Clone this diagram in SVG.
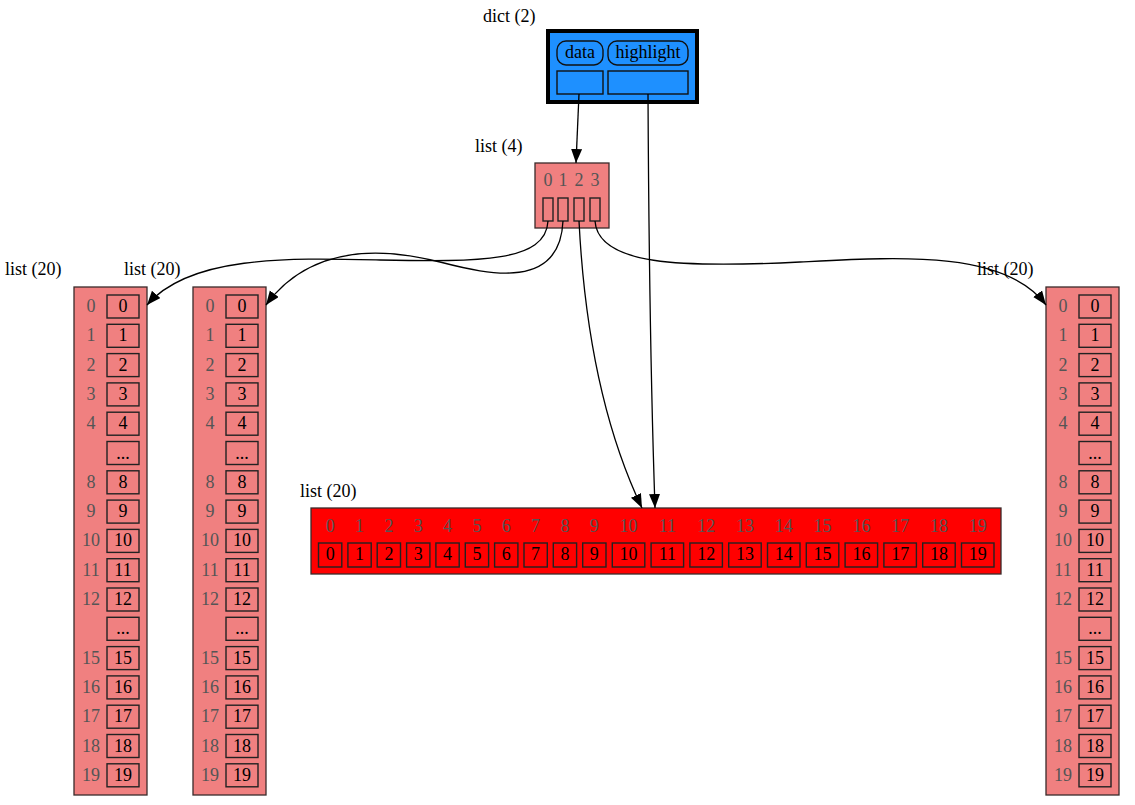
<svg xmlns="http://www.w3.org/2000/svg" width="1135" height="805" viewBox="0 0 1135 805">
<style>
text{font-family:"Liberation Serif","Times New Roman",serif;font-size:18px;fill:#000}
.c{text-anchor:middle}
.idx{fill:#555;text-anchor:middle}
.lst{fill:#F08080;stroke:#3a2a2a;stroke-width:1.3}
.red{fill:#FF0000;stroke:#3a2a2a;stroke-width:1.3}
.box{fill:none;stroke:#222;stroke-width:1.4}
.edge{fill:none;stroke:#000;stroke-width:1.3}
</style>
<defs>
<marker id="arr" markerUnits="userSpaceOnUse" markerWidth="16" markerHeight="12" refX="14" refY="5.5" orient="auto">
<path d="M0,0 L14,5.5 L0,11 Z" fill="#000"/>
</marker>
</defs>
<rect width="1135" height="805" fill="#fff"/>

<g id="dict">
<text x="483" y="22">dict (2)</text>
<rect x="548" y="31" width="149" height="71" fill="#1E90FF" stroke="#000" stroke-width="4"/>
<rect x="557" y="41" width="46" height="24" rx="9" fill="#1E90FF" stroke="#111" stroke-width="1.4"/>
<rect x="608" y="41" width="80" height="24" rx="9" fill="#1E90FF" stroke="#111" stroke-width="1.4"/>
<text class="c" x="580" y="58">data</text>
<text class="c" x="648" y="58">highlight</text>
<rect x="557" y="71" width="46" height="23" fill="#1E90FF" stroke="#111" stroke-width="1.4"/>
<rect x="608" y="71" width="80" height="23" fill="#1E90FF" stroke="#111" stroke-width="1.4"/>
</g>

<g id="list4">
<text x="475" y="152">list (4)</text>
<rect class="lst" x="535" y="163" width="74" height="65"/>
<text class="idx" x="548" y="186">0</text>
<text class="idx" x="563" y="186">1</text>
<text class="idx" x="579" y="186">2</text>
<text class="idx" x="595" y="186">3</text>
<rect class="box" x="543" y="198" width="10" height="23"/>
<rect class="box" x="558" y="198" width="10" height="23"/>
<rect class="box" x="574" y="198" width="10" height="23"/>
<rect class="box" x="590" y="198" width="10" height="23"/>
</g>

<g id="listA">
<text x="5" y="275">list (20)</text>
<g transform="translate(74,0)">
<rect class="lst" x="0" y="287" width="73" height="508"/>
<text class="idx" x="17" y="312">0</text><rect class="box" x="33" y="295" width="32" height="23"/><text class="c" x="49" y="312">0</text>
<text class="idx" x="17" y="341.3">1</text><rect class="box" x="33" y="324.3" width="32" height="23"/><text class="c" x="49" y="341.3">1</text>
<text class="idx" x="17" y="370.6">2</text><rect class="box" x="33" y="353.6" width="32" height="23"/><text class="c" x="49" y="370.6">2</text>
<text class="idx" x="17" y="399.9">3</text><rect class="box" x="33" y="382.9" width="32" height="23"/><text class="c" x="49" y="399.9">3</text>
<text class="idx" x="17" y="429.2">4</text><rect class="box" x="33" y="412.2" width="32" height="23"/><text class="c" x="49" y="429.2">4</text>
<rect class="box" x="33" y="441.5" width="32" height="23"/><text class="c" x="49" y="458.5">...</text>
<text class="idx" x="17" y="487.8">8</text><rect class="box" x="33" y="470.8" width="32" height="23"/><text class="c" x="49" y="487.8">8</text>
<text class="idx" x="17" y="517.1">9</text><rect class="box" x="33" y="500.1" width="32" height="23"/><text class="c" x="49" y="517.1">9</text>
<text class="idx" x="17" y="546.4">10</text><rect class="box" x="33" y="529.4" width="32" height="23"/><text class="c" x="49" y="546.4">10</text>
<text class="idx" x="17" y="575.7">11</text><rect class="box" x="33" y="558.7" width="32" height="23"/><text class="c" x="49" y="575.7">11</text>
<text class="idx" x="17" y="605">12</text><rect class="box" x="33" y="588" width="32" height="23"/><text class="c" x="49" y="605">12</text>
<rect class="box" x="33" y="617.3" width="32" height="23"/><text class="c" x="49" y="634.3">...</text>
<text class="idx" x="17" y="663.6">15</text><rect class="box" x="33" y="646.6" width="32" height="23"/><text class="c" x="49" y="663.6">15</text>
<text class="idx" x="17" y="692.9">16</text><rect class="box" x="33" y="675.9" width="32" height="23"/><text class="c" x="49" y="692.9">16</text>
<text class="idx" x="17" y="722.2">17</text><rect class="box" x="33" y="705.2" width="32" height="23"/><text class="c" x="49" y="722.2">17</text>
<text class="idx" x="17" y="751.5">18</text><rect class="box" x="33" y="734.5" width="32" height="23"/><text class="c" x="49" y="751.5">18</text>
<text class="idx" x="17" y="780.8">19</text><rect class="box" x="33" y="763.8" width="32" height="23"/><text class="c" x="49" y="780.8">19</text>
</g>
</g>

<g id="listB">
<text x="124" y="275">list (20)</text>
<g transform="translate(193,0)">
<rect class="lst" x="0" y="287" width="73" height="508"/>
<text class="idx" x="17" y="312">0</text><rect class="box" x="33" y="295" width="32" height="23"/><text class="c" x="49" y="312">0</text>
<text class="idx" x="17" y="341.3">1</text><rect class="box" x="33" y="324.3" width="32" height="23"/><text class="c" x="49" y="341.3">1</text>
<text class="idx" x="17" y="370.6">2</text><rect class="box" x="33" y="353.6" width="32" height="23"/><text class="c" x="49" y="370.6">2</text>
<text class="idx" x="17" y="399.9">3</text><rect class="box" x="33" y="382.9" width="32" height="23"/><text class="c" x="49" y="399.9">3</text>
<text class="idx" x="17" y="429.2">4</text><rect class="box" x="33" y="412.2" width="32" height="23"/><text class="c" x="49" y="429.2">4</text>
<rect class="box" x="33" y="441.5" width="32" height="23"/><text class="c" x="49" y="458.5">...</text>
<text class="idx" x="17" y="487.8">8</text><rect class="box" x="33" y="470.8" width="32" height="23"/><text class="c" x="49" y="487.8">8</text>
<text class="idx" x="17" y="517.1">9</text><rect class="box" x="33" y="500.1" width="32" height="23"/><text class="c" x="49" y="517.1">9</text>
<text class="idx" x="17" y="546.4">10</text><rect class="box" x="33" y="529.4" width="32" height="23"/><text class="c" x="49" y="546.4">10</text>
<text class="idx" x="17" y="575.7">11</text><rect class="box" x="33" y="558.7" width="32" height="23"/><text class="c" x="49" y="575.7">11</text>
<text class="idx" x="17" y="605">12</text><rect class="box" x="33" y="588" width="32" height="23"/><text class="c" x="49" y="605">12</text>
<rect class="box" x="33" y="617.3" width="32" height="23"/><text class="c" x="49" y="634.3">...</text>
<text class="idx" x="17" y="663.6">15</text><rect class="box" x="33" y="646.6" width="32" height="23"/><text class="c" x="49" y="663.6">15</text>
<text class="idx" x="17" y="692.9">16</text><rect class="box" x="33" y="675.9" width="32" height="23"/><text class="c" x="49" y="692.9">16</text>
<text class="idx" x="17" y="722.2">17</text><rect class="box" x="33" y="705.2" width="32" height="23"/><text class="c" x="49" y="722.2">17</text>
<text class="idx" x="17" y="751.5">18</text><rect class="box" x="33" y="734.5" width="32" height="23"/><text class="c" x="49" y="751.5">18</text>
<text class="idx" x="17" y="780.8">19</text><rect class="box" x="33" y="763.8" width="32" height="23"/><text class="c" x="49" y="780.8">19</text>
</g>
</g>

<g id="listD">
<text x="977" y="275">list (20)</text>
<g transform="translate(1046,0)">
<rect class="lst" x="0" y="287" width="73" height="508"/>
<text class="idx" x="17" y="312">0</text><rect class="box" x="33" y="295" width="32" height="23"/><text class="c" x="49" y="312">0</text>
<text class="idx" x="17" y="341.3">1</text><rect class="box" x="33" y="324.3" width="32" height="23"/><text class="c" x="49" y="341.3">1</text>
<text class="idx" x="17" y="370.6">2</text><rect class="box" x="33" y="353.6" width="32" height="23"/><text class="c" x="49" y="370.6">2</text>
<text class="idx" x="17" y="399.9">3</text><rect class="box" x="33" y="382.9" width="32" height="23"/><text class="c" x="49" y="399.9">3</text>
<text class="idx" x="17" y="429.2">4</text><rect class="box" x="33" y="412.2" width="32" height="23"/><text class="c" x="49" y="429.2">4</text>
<rect class="box" x="33" y="441.5" width="32" height="23"/><text class="c" x="49" y="458.5">...</text>
<text class="idx" x="17" y="487.8">8</text><rect class="box" x="33" y="470.8" width="32" height="23"/><text class="c" x="49" y="487.8">8</text>
<text class="idx" x="17" y="517.1">9</text><rect class="box" x="33" y="500.1" width="32" height="23"/><text class="c" x="49" y="517.1">9</text>
<text class="idx" x="17" y="546.4">10</text><rect class="box" x="33" y="529.4" width="32" height="23"/><text class="c" x="49" y="546.4">10</text>
<text class="idx" x="17" y="575.7">11</text><rect class="box" x="33" y="558.7" width="32" height="23"/><text class="c" x="49" y="575.7">11</text>
<text class="idx" x="17" y="605">12</text><rect class="box" x="33" y="588" width="32" height="23"/><text class="c" x="49" y="605">12</text>
<rect class="box" x="33" y="617.3" width="32" height="23"/><text class="c" x="49" y="634.3">...</text>
<text class="idx" x="17" y="663.6">15</text><rect class="box" x="33" y="646.6" width="32" height="23"/><text class="c" x="49" y="663.6">15</text>
<text class="idx" x="17" y="692.9">16</text><rect class="box" x="33" y="675.9" width="32" height="23"/><text class="c" x="49" y="692.9">16</text>
<text class="idx" x="17" y="722.2">17</text><rect class="box" x="33" y="705.2" width="32" height="23"/><text class="c" x="49" y="722.2">17</text>
<text class="idx" x="17" y="751.5">18</text><rect class="box" x="33" y="734.5" width="32" height="23"/><text class="c" x="49" y="751.5">18</text>
<text class="idx" x="17" y="780.8">19</text><rect class="box" x="33" y="763.8" width="32" height="23"/><text class="c" x="49" y="780.8">19</text>
</g>
</g>

<g id="listC">
<text x="300" y="497">list (20)</text>
<rect class="red" x="311" y="508" width="690" height="66"/>
<text class="idx" x="330.2" y="532">0</text><rect class="box" x="318.5" y="543" width="23.3" height="24"/><text class="c" x="330.2" y="560">0</text>
<text class="idx" x="359.5" y="532">1</text><rect class="box" x="347.9" y="543" width="23.3" height="24"/><text class="c" x="359.5" y="560">1</text>
<text class="idx" x="388.9" y="532">2</text><rect class="box" x="377.2" y="543" width="23.3" height="24"/><text class="c" x="388.9" y="560">2</text>
<text class="idx" x="418.2" y="532">3</text><rect class="box" x="406.6" y="543" width="23.3" height="24"/><text class="c" x="418.2" y="560">3</text>
<text class="idx" x="447.6" y="532">4</text><rect class="box" x="435.9" y="543" width="23.3" height="24"/><text class="c" x="447.6" y="560">4</text>
<text class="idx" x="476.9" y="532">5</text><rect class="box" x="465.3" y="543" width="23.3" height="24"/><text class="c" x="476.9" y="560">5</text>
<text class="idx" x="506.3" y="532">6</text><rect class="box" x="494.6" y="543" width="23.3" height="24"/><text class="c" x="506.3" y="560">6</text>
<text class="idx" x="535.6" y="532">7</text><rect class="box" x="524" y="543" width="23.3" height="24"/><text class="c" x="535.6" y="560">7</text>
<text class="idx" x="565" y="532">8</text><rect class="box" x="553.3" y="543" width="23.3" height="24"/><text class="c" x="565" y="560">8</text>
<text class="idx" x="594.3" y="532">9</text><rect class="box" x="582.7" y="543" width="23.3" height="24"/><text class="c" x="594.3" y="560">9</text>
<text class="idx" x="628.6" y="532">10</text><rect class="box" x="612.3" y="543" width="32.5" height="24"/><text class="c" x="628.6" y="560">10</text>
<text class="idx" x="667.4" y="532">11</text><rect class="box" x="651.1" y="543" width="32.5" height="24"/><text class="c" x="667.4" y="560">11</text>
<text class="idx" x="706.2" y="532">12</text><rect class="box" x="689.9" y="543" width="32.5" height="24"/><text class="c" x="706.2" y="560">12</text>
<text class="idx" x="745" y="532">13</text><rect class="box" x="728.7" y="543" width="32.5" height="24"/><text class="c" x="745" y="560">13</text>
<text class="idx" x="783.8" y="532">14</text><rect class="box" x="767.5" y="543" width="32.5" height="24"/><text class="c" x="783.8" y="560">14</text>
<text class="idx" x="822.6" y="532">15</text><rect class="box" x="806.3" y="543" width="32.5" height="24"/><text class="c" x="822.6" y="560">15</text>
<text class="idx" x="861.4" y="532">16</text><rect class="box" x="845.1" y="543" width="32.5" height="24"/><text class="c" x="861.4" y="560">16</text>
<text class="idx" x="900.2" y="532">17</text><rect class="box" x="883.9" y="543" width="32.5" height="24"/><text class="c" x="900.2" y="560">17</text>
<text class="idx" x="939" y="532">18</text><rect class="box" x="922.7" y="543" width="32.5" height="24"/><text class="c" x="939" y="560">18</text>
<text class="idx" x="977.8" y="532">19</text><rect class="box" x="961.5" y="543" width="32.5" height="24"/><text class="c" x="977.8" y="560">19</text>
</g>

<g id="edges">
<path class="edge" d="M579,94 L576,163" marker-end="url(#arr)"/>
<path class="edge" d="M648,94 C649,300 652,420 655,508" marker-end="url(#arr)"/>
<path class="edge" d="M548,221 C546,262 480,262 380,260 C290,258 190,255 147,305" marker-end="url(#arr)"/>
<path class="edge" d="M563,221 C560,290 490,275 440,262 C380,247 310,245 266,305" marker-end="url(#arr)"/>
<path class="edge" d="M579,221 C584,320 600,420 642,508" marker-end="url(#arr)"/>
<path class="edge" d="M595,221 C598,265 680,268 800,262 C900,257 1005,250 1046,305" marker-end="url(#arr)"/>
</g>
</svg>
